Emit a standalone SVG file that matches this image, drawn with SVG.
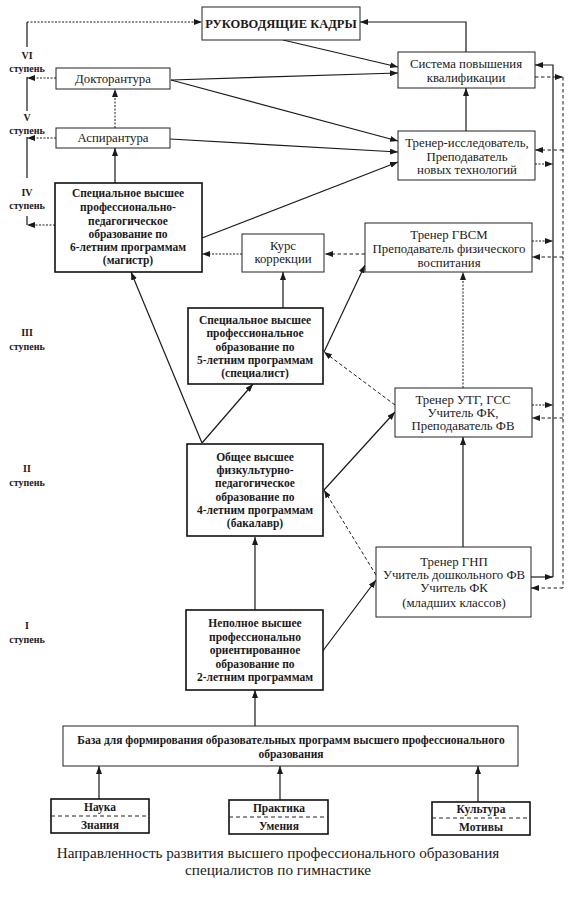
<svg xmlns="http://www.w3.org/2000/svg" width="570" height="900" viewBox="0 0 570 900" font-family="'Liberation Serif', 'Times New Roman', serif">
<defs>
<marker id="ah" viewBox="0 0 8 6" refX="8" refY="3" markerWidth="8" markerHeight="6" markerUnits="userSpaceOnUse" orient="auto"><path d="M0,0 L8,3 L0,6 z" fill="#1a1a1a"/></marker>
</defs>
<style>
text{font-family:"Liberation Serif","Times New Roman",serif;fill:#1a1a1a;text-anchor:middle}
.r{font-size:12.8px}
.b{font-size:11.5px;font-weight:bold}
.h{font-size:12.5px;font-weight:bold}
.st{font-size:10px;font-weight:bold}
.cap{font-size:15.2px}
.box{fill:#fff;stroke:#222;stroke-width:1}
.bb{fill:#fff;stroke:#111;stroke-width:1.6}
.s{fill:none;stroke:#1a1a1a;stroke-width:1.2}
.d{fill:none;stroke:#1a1a1a;stroke-width:1;stroke-dasharray:2 1.5}
.ds{fill:none;stroke:#1a1a1a;stroke-width:1;stroke-dasharray:3.5 2.5}
.div{stroke:#222;stroke-width:1;stroke-dasharray:4 3}
.arr{marker-end:url(#ah)}
</style>
<rect width="570" height="900" fill="#fff"/>

<g id="stages">
<text class="st" x="27" y="59">VI</text><text class="st" x="27" y="72">ступень</text>
<text class="st" x="27" y="121">V</text><text class="st" x="27" y="134">ступень</text>
<text class="st" x="27" y="196">IV</text><text class="st" x="27" y="209">ступень</text>
<text class="st" x="27" y="336">III</text><text class="st" x="27" y="350">ступень</text>
<text class="st" x="27" y="472">II</text><text class="st" x="27" y="486">ступень</text>
<text class="st" x="27" y="629">I</text><text class="st" x="27" y="643">ступень</text>
</g>

<g id="connectors">
<path class="s" d="M27,225 V216 M27,178 V137 M27,111 V77 M27,47 V22"/>
<path class="d arr" d="M27,22 H202"/>
<path class="d arr" d="M56,78 H27"/>
<path class="d arr" d="M56,138 H27"/>
<path class="d arr" d="M55,225 H27"/>
<path class="d arr" d="M115,128 V89"/>
<path class="s arr" d="M115,183 V148"/>
<path class="s arr" d="M283,40 L398,67"/>
<path class="s arr" d="M171,80 L398,73"/>
<path class="s arr" d="M171,80 L398,141"/>
<path class="s arr" d="M170,139 L398,152"/>
<path class="s arr" d="M202,238 L398,162"/>
<path class="s arr" d="M466,131 V88"/>
<path class="s arr" d="M466,52 V22 H360"/>
<path class="d arr" d="M242,254 H202"/>
<path class="ds arr" d="M365,254 H325"/>
<path class="s arr" d="M283,308 V272"/>
<path class="s arr" d="M324,352 L365,265"/>
<path class="ds arr" d="M395,405 L324,352"/>
<path class="d arr" d="M463,388 V272"/>
<path class="s arr" d="M324,490 L395,412"/>
<path class="ds arr" d="M376,575 L324,490"/>
<path class="s arr" d="M322,652 L376,580"/>
<path class="s arr" d="M463,547 V437"/>
<path class="s arr" d="M202,443 L131,272"/>
<path class="s arr" d="M202,443 L253,384"/>
<path class="s arr" d="M255,610 V537"/>
<path class="s arr" d="M255,726 V690"/>
<path class="s arr" d="M99,799 V766"/>
<path class="s arr" d="M280,800 V766"/>
<path class="s arr" d="M478,802 V766"/>
<path class="s arr" d="M531,577 H553"/>
<path class="s arr" d="M553,577 V65 H535"/>
<path class="d arr" d="M535,164 H553"/>
<path class="d arr" d="M532,241 H553"/>
<path class="d arr" d="M532,405 H553"/>
<path class="ds arr" d="M535,77 H563"/>
<path class="ds" d="M563,77 V588"/>
<path class="ds arr" d="M563,150 H535"/>
<path class="ds arr" d="M563,257 H532"/>
<path class="ds arr" d="M563,418 H532"/>
<path class="ds arr" d="M563,588 H531"/>
</g>

<g id="rukovod"><rect class="box" x="202" y="7" width="158" height="33"/><text class="h" x="281" y="28">РУКОВОДЯЩИЕ КАДРЫ</text></g>
<g id="sistema"><rect class="box" x="398" y="52" width="137" height="36"/><text class="r" x="466" y="68">Система повышения</text><text class="r" x="466" y="82">квалификации</text></g>
<g id="doktor"><rect class="box" x="56" y="68" width="114" height="21"/><text class="r" x="113" y="83">Докторантура</text></g>
<g id="aspir"><rect class="box" x="56" y="128" width="114" height="20"/><text class="r" x="113" y="142">Аспирантура</text></g>
<g id="trener-issl"><rect class="box" x="398" y="131" width="137" height="49"/><text class="r" x="467" y="147">Тренер-исследователь,</text><text class="r" x="467" y="161">Преподаватель</text><text class="r" x="467" y="174">новых технологий</text></g>
<g id="magistr"><rect class="bb" x="55" y="183" width="147" height="89"/>
<text class="b" x="128" y="197">Специальное высшее</text><text class="b" x="128" y="211">профессионально-</text><text class="b" x="128" y="225">педагогическое</text><text class="b" x="128" y="238">образование по</text><text class="b" x="128" y="251">6-летним программам</text><text class="b" x="128" y="264">(магистр)</text></g>
<g id="kurs"><rect class="box" x="242" y="234" width="82" height="38"/><text class="r" x="283" y="250">Курс</text><text class="r" x="283" y="263">коррекции</text></g>
<g id="gvsm"><rect class="box" x="365" y="223" width="167" height="49"/><text class="r" x="449" y="239">Тренер ГВСМ</text><text class="r" x="449" y="253">Преподаватель физического</text><text class="r" x="449" y="267">воспитания</text></g>
<g id="specialist"><rect class="bb" x="188" y="308" width="135" height="76"/>
<text class="b" x="255" y="324">Специальное высшее</text><text class="b" x="255" y="337">профессиональное</text><text class="b" x="255" y="351">образование по</text><text class="b" x="255" y="364">5-летним программам</text><text class="b" x="255" y="377">(специалист)</text></g>
<g id="utg"><rect class="box" x="395" y="388" width="137" height="49"/><text class="r" x="463" y="404">Тренер УТГ, ГСС</text><text class="r" x="463" y="417">Учитель ФК,</text><text class="r" x="463" y="430">Преподаватель ФВ</text></g>
<g id="bakalavr"><rect class="bb" x="187" y="444" width="136" height="92"/>
<text class="b" x="255" y="461">Общее высшее</text><text class="b" x="255" y="474">физкультурно-</text><text class="b" x="255" y="487">педагогическое</text><text class="b" x="255" y="501">образование по</text><text class="b" x="255" y="514">4-летним программам</text><text class="b" x="255" y="527">(бакалавр)</text></g>
<g id="gnp"><rect class="box" x="376" y="547" width="155" height="70"/><text class="r" x="454" y="566">Тренер ГНП</text><text class="r" x="454" y="579">Учитель дошкольного ФВ</text><text class="r" x="454" y="592">Учитель ФК</text><text class="r" x="454" y="607">(младших классов)</text></g>
<g id="nepolnoe"><rect class="bb" x="186" y="610" width="137" height="80"/>
<text class="b" x="255" y="627">Неполное высшее</text><text class="b" x="255" y="641">профессионально</text><text class="b" x="255" y="654">ориентированное</text><text class="b" x="255" y="668">образование по</text><text class="b" x="255" y="681">2-летним программам</text></g>
<g id="baza"><rect class="box" x="63" y="726" width="455" height="40"/><text class="b" x="291" y="744">База для формирования образовательных программ высшего профессионального</text><text class="b" x="291" y="758">образования</text></g>
<g id="nauka"><rect class="bb" x="51" y="799" width="98" height="34"/><line class="div" x1="51" y1="816" x2="149" y2="816"/><text class="b" x="100" y="811">Наука</text><text class="b" x="100" y="829">Знания</text></g>
<g id="praktika"><rect class="bb" x="229" y="800" width="99" height="34"/><line class="div" x1="229" y1="817" x2="328" y2="817"/><text class="b" x="279" y="812">Практика</text><text class="b" x="279" y="830">Умения</text></g>
<g id="kultura"><rect class="bb" x="432" y="802" width="98" height="33"/><line class="div" x1="432" y1="818" x2="530" y2="818"/><text class="b" x="481" y="813">Культура</text><text class="b" x="481" y="831">Мотивы</text></g>

<g id="caption"><text class="cap" x="278" y="858">Направленность развития высшего профессионального образования</text><text class="cap" x="278" y="875">специалистов по гимнастике</text></g>
</svg>
